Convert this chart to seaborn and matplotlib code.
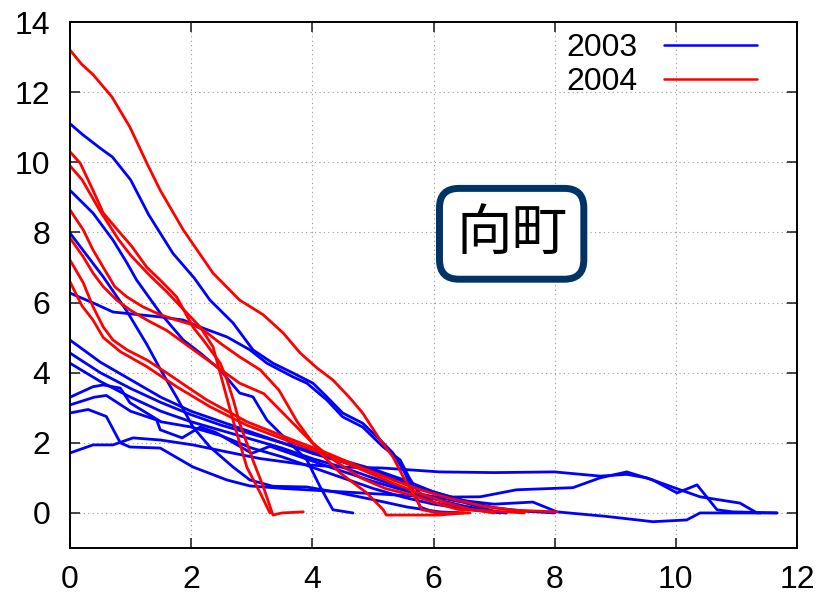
import numpy as np
import pandas as pd
import seaborn as sns
from matplotlib import pyplot as plt

# recession curves, (x, y)
# 2003 (blue)
b03_1 = [(0, 11.1), (0.2, 10.8), (0.5, 10.4), (0.7, 10.15), (1.0, 9.5), (1.3, 8.5), (1.7, 7.4), (2.05, 6.7),
         (2.31, 6.07), (2.69, 5.42), (3.02, 4.65), (3.35, 4.27), (3.68, 3.99), (4.01, 3.7), (4.24, 3.31),
         (4.5, 2.85), (4.83, 2.56), (5.12, 2.08), (5.33, 1.71), (5.5, 1.23), (5.66, 0.66), (5.78, 0.17),
         (6.0, 0.02), (6.4, 0.0)]
b03_2 = [(0, 9.2), (0.38, 8.55), (0.71, 7.78), (0.94, 7.13), (1.1, 6.64), (1.49, 5.7), (1.87, 4.93),
         (2.15, 4.56), (2.48, 4.08), (2.8, 3.42), (3.02, 3.31), (3.25, 2.65), (3.58, 2.08), (3.91, 1.51),
         (4.13, 0.74), (4.34, 0.09), (4.67, 0.0)]
b03_3 = [(0, 7.98), (0.55, 6.73), (0.94, 5.75), (1.27, 4.8), (1.49, 4.1), (1.76, 3.3), (2.03, 2.45),
         (2.31, 1.88), (2.69, 1.31), (2.97, 0.94), (3.35, 0.76), (3.91, 0.74), (4.46, 0.57), (5.0, 0.38),
         (5.56, 0.17), (6.1, 0.03), (6.5, 0.0)]
b03_4 = [(0, 6.27), (0.38, 5.99), (0.71, 5.73), (1.49, 5.59), (1.87, 5.5), (2.15, 5.3), (2.59, 5.02),
         (2.97, 4.65), (3.25, 4.27), (3.68, 3.88), (3.91, 3.7), (4.24, 3.22), (4.5, 2.74), (4.83, 2.45),
         (5.17, 1.88), (5.45, 1.51), (5.6, 1.0), (5.75, 0.6), (6.0, 0.3), (6.6, 0.1), (7.2, 0.0)]
b03_5 = [(0, 4.93), (0.5, 4.3), (1.0, 3.8), (1.5, 3.3), (2.0, 2.9), (2.5, 2.6), (3.0, 2.3), (3.5, 2.0),
         (4.0, 1.7), (4.5, 1.45), (5.0, 1.2), (5.5, 0.9), (6.0, 0.6), (6.5, 0.35), (7.0, 0.15), (7.5, 0.05),
         (8.0, 0.0)]
b03_6 = [(0, 4.56), (0.5, 4.0), (1.0, 3.55), (1.5, 3.15), (2.0, 2.8), (2.5, 2.5), (3.0, 2.25), (3.5, 2.0),
         (4.0, 1.75), (4.5, 1.5), (5.0, 1.25), (5.5, 0.95), (6.0, 0.6), (6.5, 0.35), (7.0, 0.25),
         (7.64, 0.31), (8.04, 0.03), (8.86, -0.1), (9.62, -0.25), (10.18, -0.2), (10.4, 0.0), (10.94, 0.0),
         (11.4, 0.0)]
b03_7 = [(0, 4.27), (0.5, 3.75), (1.0, 3.3), (1.5, 2.9), (2.0, 2.6), (2.5, 2.35), (3.0, 2.1), (3.5, 1.85),
         (4.0, 1.55), (4.5, 1.3), (5.0, 1.0), (5.5, 0.7), (6.0, 0.4), (6.5, 0.2), (7.1, 0.0)]
b03_8 = [(0, 3.3), (0.38, 3.6), (0.55, 3.65), (0.83, 3.56), (0.99, 3.14), (1.5, 2.6), (2.0, 2.45),
         (2.5, 2.2), (3.0, 1.85), (3.5, 1.6), (4.0, 1.3), (4.5, 1.0), (5.0, 0.7), (5.5, 0.45), (6.0, 0.25),
         (6.6, 0.1), (7.2, 0.0)]
b03_9 = [(0, 3.08), (0.4, 3.3), (0.6, 3.35), (1.0, 2.9), (1.43, 2.65), (1.49, 2.37), (1.85, 2.14),
         (2.15, 2.45), (2.4, 2.3), (2.7, 2.0), (3.0, 1.7), (3.3, 1.9), (3.8, 1.6), (4.3, 1.3), (5.0, 0.9),
         (5.6, 0.6), (6.5, 0.3), (7.1, 0.0)]
b03_10 = [(0, 2.85), (0.3, 2.95), (0.6, 2.75), (0.83, 2.0), (0.99, 1.88), (1.49, 1.85), (2.03, 1.31),
          (2.59, 0.94), (2.97, 0.77), (3.5, 0.7), (4.0, 0.65), (4.5, 0.6), (5.0, 0.55), (5.5, 0.5),
          (6.0, 0.45), (6.77, 0.46), (7.37, 0.66), (8.3, 0.72), (8.75, 1.0), (9.19, 1.17), (9.62, 0.94),
          (10.02, 0.57), (10.35, 0.8), (10.68, 0.09), (10.94, 0.03), (11.67, 0.0)]
b03_11 = [(0, 1.71), (0.38, 1.94), (0.71, 1.94), (1.04, 2.14), (1.49, 2.08), (2.03, 1.94), (2.59, 1.74),
          (3.14, 1.55), (3.91, 1.37), (4.46, 1.31), (5.17, 1.28), (6.1, 1.17), (7.0, 1.15), (8.0, 1.17),
          (8.75, 1.05), (9.19, 1.1), (9.52, 1.0), (10.07, 0.66), (10.4, 0.46), (11.06, 0.28), (11.34, 0.0),
          (11.67, 0.0)]

# 2004 (red)
r04_1 = [(0, 13.2), (0.19, 12.8), (0.38, 12.5), (0.69, 11.87), (0.99, 11.0), (1.27, 9.97), (1.49, 9.2),
         (1.87, 8.07), (2.36, 6.84), (2.8, 6.07), (3.19, 5.65), (3.52, 5.13), (3.8, 4.56), (4.08, 4.13),
         (4.34, 3.79), (4.62, 3.28), (4.83, 2.85), (5.12, 2.08), (5.33, 1.6), (5.5, 1.03), (5.66, 0.57),
         (5.81, 0.09), (6.1, 0.0), (6.6, 0.0)]
r04_2 = [(0, 10.3), (0.17, 9.97), (0.38, 9.2), (0.55, 8.55), (0.83, 7.98), (1.02, 7.6), (1.27, 7.0),
         (1.49, 6.64), (1.76, 6.16), (2.03, 5.3), (2.2, 4.93), (2.48, 4.27), (2.59, 3.8), (2.7, 3.2),
         (2.8, 2.56), (3.02, 1.5), (3.19, 0.75), (3.35, -0.06), (3.5, 0.0), (3.85, 0.03)]
r04_3 = [(0, 9.9), (0.2, 9.5), (0.5, 8.6), (0.8, 7.8), (1.0, 7.35), (1.3, 6.8), (1.6, 6.3), (1.93, 5.7),
         (2.15, 5.3), (2.36, 4.74), (2.69, 2.65), (2.92, 1.3), (3.14, 0.57), (3.3, 0.0)]
r04_4 = [(0, 8.64), (0.22, 8.07), (0.38, 7.5), (0.55, 7.0), (0.74, 6.45), (0.94, 6.16), (1.2, 5.88),
         (1.49, 5.65), (1.76, 5.5), (2.03, 5.36), (2.2, 5.22), (2.48, 4.84), (2.8, 4.45), (3.14, 4.08),
         (3.45, 3.5), (3.75, 2.6), (4.13, 1.71), (4.46, 1.14), (4.9, 0.57), (5.17, 0.09), (5.22, -0.06),
         (6.1, -0.06), (6.5, 0.0)]
r04_5 = [(0, 7.84), (0.22, 7.3), (0.38, 6.84), (0.55, 6.45), (0.77, 6.07), (0.99, 5.79), (1.27, 5.5),
         (1.6, 5.2), (2.0, 4.7), (2.4, 4.2), (2.8, 3.7), (3.2, 3.4), (3.6, 2.7), (4.0, 2.0), (4.4, 1.45),
         (4.8, 1.0), (5.2, 0.7), (5.66, 0.5), (6.0, 0.3), (6.4, 0.1), (7.0, 0.05), (7.5, 0.0)]
r04_6 = [(0, 7.21), (0.22, 6.56), (0.38, 5.88), (0.55, 5.3), (0.71, 4.93), (0.94, 4.65), (1.27, 4.36),
         (1.6, 3.99), (1.93, 3.6), (2.26, 3.22), (2.92, 2.6), (3.68, 2.08), (4.24, 1.71), (4.79, 1.31),
         (5.33, 0.94), (5.78, 0.66), (6.3, 0.4), (6.8, 0.2), (7.3, 0.08), (8.04, 0.03)]
r04_7 = [(0, 6.59), (0.2, 5.9), (0.38, 5.5), (0.55, 5.0), (0.83, 4.6), (1.27, 4.17), (1.76, 3.6),
         (2.31, 3.03), (2.92, 2.5), (3.68, 2.0), (4.24, 1.65), (4.79, 1.25), (5.33, 0.85), (5.78, 0.55),
         (6.2, 0.3), (6.6, 0.1), (7.0, 0.0)]

runs_2003 = [b03_1, b03_2, b03_3, b03_4, b03_5, b03_6, b03_7, b03_8, b03_9, b03_10, b03_11]
runs_2004 = [r04_1, r04_2, r04_3, r04_4, r04_5, r04_6, r04_7]

xticks = [0, 2, 4, 6, 8, 10, 12]
yticks = [0, 2, 4, 6, 8, 10, 12, 14]
place_name = '向町'

rows = []
for year, runs in [('2003', runs_2003), ('2004', runs_2004)]:
    for k, pts in enumerate(runs):
        for i, (x, y) in enumerate(pts):
            rows.append({'year': year, 'run': f'{year}_{k}', 'order': i, 'x': x, 'y': y})
df = pd.DataFrame(rows)

sns.set_style('ticks')
plt.rcParams['font.family'] = ['Liberation Sans', 'DejaVu Sans']
plt.rcParams['text.color'] = 'black'

fig = plt.figure(figsize=(8.25, 5.97), dpi=100)
ax = fig.add_axes([70 / 825, 1 - 548 / 597, 727 / 825, 526 / 597])

sns.lineplot(data=df, x='x', y='y', hue='year', units='run', estimator=None, sort=False,
             palette={'2003': '#0000ff', '2004': '#ff0000'}, linewidth=2.0, ax=ax)

ax.set_xlim(0, 12)
ax.set_ylim(-1, 14)
ax.set_xticks(xticks)
ax.set_yticks(yticks)
ax.set_xlabel('')
ax.set_ylabel('')
ax.grid(True, linestyle=(0, (1, 3)), color='#999999', linewidth=0.8)
ax.tick_params(direction='in', length=7, width=1.2, labelsize=23, labelcolor='black',
               top=True, right=True)
ax.tick_params(axis='y', pad=14)
ax.tick_params(axis='x', pad=12)
for s in ax.spines.values():
    s.set_linewidth(1.4)
    s.set_color('black')

handles, labels = ax.get_legend_handles_labels()
leg = ax.legend(handles[:2], ['2003', '2004'], loc='upper right', bbox_to_anchor=(757 / 825, 1 - 33 / 597),
                bbox_transform=fig.transFigure, frameon=False, markerfirst=False, fontsize=23,
                handlelength=2.9, handletextpad=0.85, labelspacing=0.12, borderpad=0, borderaxespad=0)
for h in leg.get_lines():
    h.set_linewidth(1.8)
for t in leg.get_texts():
    t.set_color('black')

ax.text(7.29, 7.96, place_name, ha='center', va='center', fontsize=40, color='black',
        family=['Noto Sans CJK JP', 'DejaVu Sans'],
        bbox=dict(boxstyle='round,pad=0.3,rounding_size=0.35', facecolor='white',
                  edgecolor='#003366', linewidth=5))

fig.savefig('out.png', dpi=100)
